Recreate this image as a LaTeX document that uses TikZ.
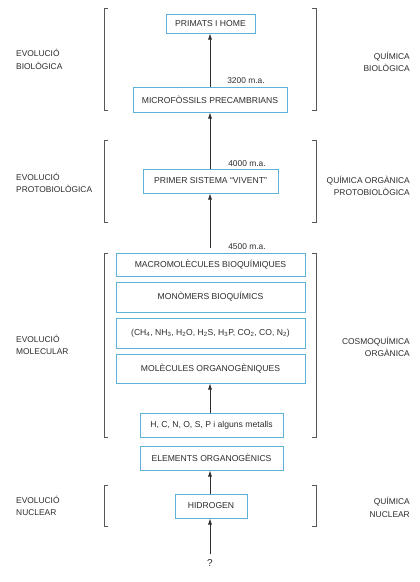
\documentclass[tikz,border=0pt]{standalone}
\usepackage{fontspec}
\setmainfont{Liberation Sans}
\usetikzlibrary{arrows.meta}
\definecolor{boxblue}{RGB}{95,178,215}
\definecolor{ink}{RGB}{45,45,45}
\tikzset{
	etapa/.style={draw=boxblue, line width=1pt, rectangle, inner sep=0pt, text=ink, font=\fontsize{8.6}{10}\selectfont},
	fletxa/.style={-{Latex[length=6pt,width=4pt]}, ink, line width=.7pt},
	claud/.style={ink!80, line width=.6pt},
	rotul/.style={text=ink, font=\fontsize{8.4}{12.5}\selectfont, inner sep=0pt}
}
\newcommand{\sub}[1]{\textsubscript{#1}}
\begin{document}
\begin{tikzpicture}[x=1pt, y=1pt]
				\useasboundingbox[fill=white] (0, 0) rectangle (420, -582);
				% etapes
				\node[etapa, minimum width=89pt, minimum height=19pt] (home) at (210.5, -23.5) {PRIMATS I HOME};
				\node[etapa, minimum width=154pt, minimum height=25pt] (micro) at (210, -99.5) {MICROFÒSSILS PRECAMBRIANS};
				\node[etapa, minimum width=135pt, minimum height=24pt] (vivent) at (210.5, -181) {PRIMER SISTEMA ``VIVENT''};
				\begin{scope}[every node/.append style={minimum width=189pt}]
					\node[etapa, minimum height=23pt] (macro) at (210.5, -264.5) {MACROMOLÈCULES BIOQUÍMIQUES};
					\node[etapa, minimum height=30pt] (mono) at (210.5, -297) {MONÒMERS BIOQUÍMICS};
					\node[etapa, minimum height=30pt] (gas) at (210.5, -333) {(CH\sub{4}, NH\sub{3}, H\sub{2}O, H\sub{2}S, H\sub{3}P, CO\sub{2}, CO, N\sub{2})};
					\node[etapa, minimum height=29pt] (molec) at (210.5, -368.5) {MOLÈCULES ORGANOGÈNIQUES};
				\end{scope}
				\node[etapa, minimum width=143pt, minimum height=24pt] (hcnos) at (211.5, -425) {H, C, N, O, S, P i alguns metalls};
				\node[etapa, minimum width=143pt, minimum height=24pt] (elem) at (211.5, -458) {ELEMENTS ORGANOGÈNICS};
				\node[etapa, minimum width=72pt, minimum height=24pt] (hidro) at (211, -506) {HIDROGEN};
				\node[rotul, font=\fontsize{10}{11}\selectfont] (orig) at (210, -563) {?};
				% fletxes
				\draw[fletxa] (micro.north -| 210, 0) -- (home.south -| 210, 0);
				\draw[fletxa] (vivent.north -| 210, 0) -- (micro.south -| 210, 0);
				\draw[fletxa, shorten <=5pt] (macro.north -| 210, 0) -- (vivent.south -| 210, 0);
				\draw[fletxa] (hcnos.north -| 210, 0) -- (molec.south -| 210, 0);
				\draw[fletxa] (hidro.north -| 210, 0) -- (elem.south -| 210, 0);
				\draw[fletxa, shorten <=5pt] (orig.north -| 210, 0) -- (hidro.south -| 210, 0);
				% dates
				\node[rotul] (d1) at (246, -81) {3200 m.a.};
				\node[rotul] (d2) at (247, -164) {4000 m.a.};
				\node[rotul] (d3) at (247, -247) {4500 m.a.};
				% claudators
				\foreach \a/\b in {8/110, 140/222, 253/437, 485/526} {
					\draw[claud] (108, -\a) -- (104, -\a) -- (104, -\b) -- (108, -\b);
					\draw[claud] (312, -\a) -- (316, -\a) -- (316, -\b) -- (312, -\b);
				}
				% rètols
				\begin{scope}[every node/.append style={rotul}]
					\node[anchor=west, align=left] (e1) at (16, -59.5) {EVOLUCIÓ\\BIOLÒGICA};
					\node[anchor=west, align=left] (e2) at (16, -183) {EVOLUCIÓ\\PROTOBIOLÒGICA};
					\node[anchor=west, align=left] (e3) at (16, -345) {EVOLUCIÓ\\MOLECULAR};
					\node[anchor=west, align=left] (e4) at (16, -506) {EVOLUCIÓ\\NUCLEAR};
					\node[anchor=east, align=right] (q1) at (410, -62) {QUÍMICA\\BIOLÒGICA};
					\node[anchor=east, align=right] (q2) at (410, -186) {QUÍMICA ORGÀNICA\\PROTOBIOLÒGICA};
					\node[anchor=east, align=right] (q3) at (410, -347) {COSMOQUÍMICA\\ORGÀNICA};
					\node[anchor=east, align=right] (q4) at (410, -507.5) {QUÍMICA\\NUCLEAR};
				\end{scope}
\end{tikzpicture}
\end{document}
